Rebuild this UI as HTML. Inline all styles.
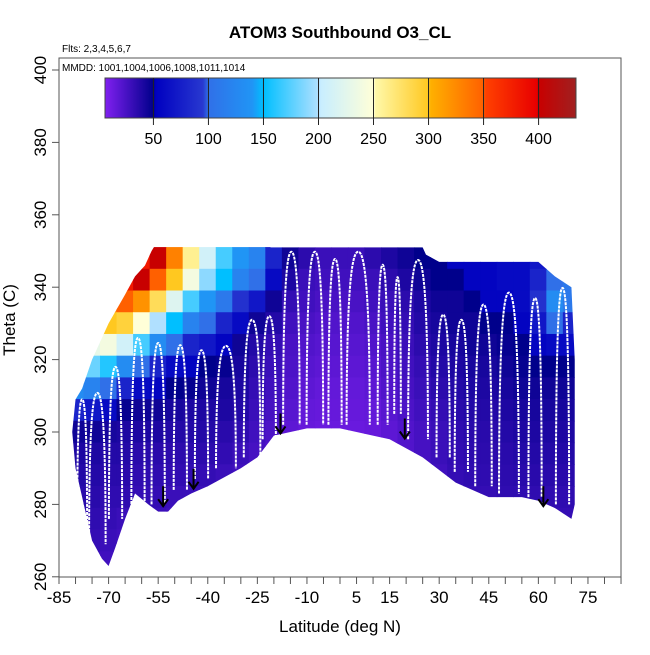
<!DOCTYPE html>
<html><head><meta charset="utf-8"><style>
html,body{margin:0;padding:0;background:#fff;}
svg text{font-family:"Liberation Sans",sans-serif;}
</style></head><body>
<svg id="chart" width="650" height="650" xmlns="http://www.w3.org/2000/svg">
<defs><clipPath id="curtainClip"><polygon id="clipPoly" points=""/></clipPath></defs>
<text x="340" y="38" font-size="17" font-weight="bold" text-anchor="middle">ATOM3 Southbound O3_CL</text>
<text x="62" y="52" font-size="10">Flts: 2,3,4,5,6,7</text>
<g id="plotArea"></g>
<rect x="59" y="58" width="562" height="519" fill="none" stroke="#555" stroke-width="1"/>
<text x="62" y="71" font-size="10">MMDD: 1001,1004,1006,1008,1011,1014</text>
<g id="colorbar"></g>
<g id="axes"></g>
<text x="340" y="632" font-size="17" text-anchor="middle">Latitude (deg N)</text>
<text transform="translate(15,320) rotate(-90)" font-size="17" text-anchor="middle">Theta (C)</text>
</svg>
<script>
const gridLats=[-80,-75,-70,-65,-60,-55,-50,-45,-40,-35,-30,-25,-20,-15,-10,-5,0,5,10,15,20,25,30,35,40,45,50,55,60,65,70];
const gridThetas=[348,342,336,330,324,318,312,306,300,294,288,282,276,270,264];
const ozone=[
[300,350,380,400,380,400,330,260,210,170,140,120,80,45,35,30,30,30,35,40,45,50,50,55,55,55,60,60,70,80,90],
[300,340,380,380,400,350,300,240,190,150,120,100,60,40,30,28,28,28,30,35,40,45,50,50,55,55,60,60,80,100,110],
[300,320,330,350,320,280,220,170,140,110,90,70,45,32,28,25,25,25,28,30,35,40,45,45,50,55,55,60,90,130,110],
[280,300,300,290,250,200,150,120,100,80,60,45,38,28,25,22,22,22,25,28,32,38,42,45,45,50,50,55,70,100,80],
[220,230,240,210,170,130,100,80,70,55,45,38,32,25,22,20,20,20,22,25,30,35,40,42,45,45,48,50,55,60,60],
[150,180,160,130,100,80,60,55,50,48,42,35,30,24,20,18,18,18,20,24,28,32,38,40,42,42,45,48,50,50,50],
[130,120,100,80,60,55,50,48,45,42,40,32,28,22,18,16,16,16,18,22,26,30,35,38,40,40,42,45,45,45,45],
[80,70,60,48,45,45,42,40,40,40,38,30,26,20,16,15,15,15,16,20,24,28,32,36,38,38,40,42,42,42,42],
[45,45,42,40,40,40,38,38,38,36,34,28,24,18,15,14,14,14,15,18,22,26,30,34,36,36,38,40,40,40,40],
[40,40,38,38,36,36,35,35,35,33,30,26,22,18,15,14,14,14,15,18,22,26,30,33,35,35,36,38,38,38,38],
[38,38,36,36,34,34,33,33,32,30,28,25,22,18,15,14,14,14,15,18,22,25,28,32,34,34,35,36,36,36,36],
[36,36,34,34,32,32,30,30,30,28,26,24,22,18,15,14,14,14,15,18,22,25,28,30,32,32,34,34,34,34,34],
[34,34,32,30,30,30,28,28,28,26,25,24,22,18,15,14,14,14,15,18,22,25,28,30,30,30,32,32,32,32,32],
[32,32,30,28,28,28,26,26,26,25,24,23,22,18,15,14,14,14,15,18,22,25,26,28,28,28,30,30,30,30,30],
[30,30,28,26,26,26,25,25,25,24,23,22,20,18,15,14,14,14,15,18,22,24,25,26,26,26,28,28,28,28,28]];
const botLats=[-81,-80,-78,-75,-72,-70,-68,-65,-62,-58,-55,-52,-49,-45,-40,-30,-25,-20,-15,-10,0,5,15,25,35,40,45,55,60,65,70,71];
const botTheta=[300,290,282,270,265,263,268,276,283,280,278,278,281,283,285,290,293,299,300,301,301,300,298,293,286,284,282,282,281,279,276,280];
const topLats=[-81,-80,-78,-75,-72,-70,-65,-62,-59,-57,-55,-25,-22,-21,25,26,30,60,65,70,71];
const topTheta=[300,309,312,320,326,330,338,343,346,350,353,353,353,351,351,349,347,347,343,340,320];
const profLat=[-78,-73.4,-67.9,-61.1,-55,-48.3,-41.9,-34.5,-26.6,-21.4,-14.7,-7.6,-1.5,5.5,12.9,17.4,23.6,31.2,36.7,43.4,51.1,59,67.3];
const profPeak=[309,310.8,318,326,324.6,324,322.6,323.8,331,332,349.8,349.8,347.8,349.8,346.2,342.8,347.5,332.4,331,335.2,338.5,337,339.8];
const profBot=[273,269,276,279,280,284,287,290,293,298,302,302,302,302,302,305,298,293,289,285,283,282,280];
const profHalf=[1.5,2.5,2,2,2,2,2,3,2.5,2,2.5,2.5,2,3.5,1.5,1,3,2,2,2.5,3,2,2];
const arrowLat=[-53.5,-44.3,-18,19.6,61.5];
const arrowTip=[279.5,284.3,299.6,298.2,279.5];
const cbTicks=[50,100,150,200,250,300,350,400];
const xTicks=[-85,-70,-55,-40,-25,-10,5,15,30,45,60,75];
const yTicks=[260,280,300,320,340,360,380,400];

const NS='http://www.w3.org/2000/svg';
const X=lat=>59+(lat+85)*3.306;
const Y=th=>70+(400-th)*3.62;
const CB=v=>105+(v-6)*(471/428);
const stops=[[6,'#8020f0'],[50,'#00008b'],[52,'#0000c0'],[95,'#2838d0'],[100,'#3070e8'],[140,'#2095f5'],[150,'#00bfff'],[200,'#b0e0ff'],[202,'#c8eeff'],[250,'#ffffd8'],[252,'#fff8a8'],[300,'#ffc820'],[302,'#ffb000'],[350,'#ff6000'],[352,'#ff4000'],[398,'#e80000'],[400,'#c80000'],[434,'#a02020']];
function hex(h){return [parseInt(h.substr(1,2),16),parseInt(h.substr(3,2),16),parseInt(h.substr(5,2),16)];}
function col(v){
 if(v<=stops[0][0])return stops[0][1];
 for(let i=1;i<stops.length;i++){if(v<=stops[i][0]){const a=hex(stops[i-1][1]),b=hex(stops[i][1]);const t=(v-stops[i-1][0])/(stops[i][0]-stops[i-1][0]);return 'rgb('+a.map((c,k)=>Math.round(c+(b[k]-c)*t)).join(',')+')';}}
 return stops[stops.length-1][1];
}
function mk(tag,attrs,parent){const e=document.createElementNS(NS,tag);for(const k in attrs)e.setAttribute(k,attrs[k]);parent.appendChild(e);return e;}

let pts=[];
topLats.forEach((l,i)=>pts.push(X(l)+','+Y(topTheta[i])));
for(let i=botLats.length-1;i>=0;i--)pts.push(X(botLats[i])+','+Y(botTheta[i]));
document.getElementById('clipPoly').setAttribute('points',pts.join(' '));

const plot=document.getElementById('plotArea');
const cells=mk('g',{'clip-path':'url(#curtainClip)'},plot);
gridThetas.forEach((th,r)=>{gridLats.forEach((la,c)=>{
 const e=mk('rect',{x:X(la-2.5)-0.3,y:Y(th+3)-0.3,width:5*3.306+0.6,height:6*3.62+0.6,fill:col(ozone[r][c])},cells);
 
 
});});

profLat.forEach((la,i)=>{
 const w=profHalf[i],x0=X(la-w),x1=X(la+w),xm=X(la),yp=Y(profPeak[i]),yb=Y(profBot[i]);
 const d=`M${x0},${yb} C${x0},${yp+(yb-yp)*0.25} ${X(la-w*0.6)},${yp} ${xm},${yp} C${X(la+w*0.6)},${yp} ${x1},${yp+(yb-yp)*0.25} ${x1},${yb}`;
 const p=mk('path',{d:d,fill:'none',stroke:'#fff','stroke-width':2,'stroke-dasharray':'3 1'},plot);
 
 
});
arrowLat.forEach((la,i)=>{
 const x=X(la),yt=Y(arrowTip[i]);
 const g=mk('g',{},plot);
 
 
 mk('line',{x1:x,y1:yt-20,x2:x,y2:yt,stroke:'#000','stroke-width':2},g);
 mk('path',{d:`M${x-5},${yt-7} L${x},${yt} L${x+5},${yt-7}`,fill:'none',stroke:'#000','stroke-width':2},g);
});

const cb=document.getElementById('colorbar');
const grad=mk('linearGradient',{id:'cbg',x1:0,x2:1,y1:0,y2:0},document.querySelector('defs'));
stops.forEach(s=>mk('stop',{offset:((s[0]-6)/428),'stop-color':s[1]},grad));
const bar=mk('rect',{x:CB(6),y:78,width:CB(434)-CB(6),height:40,fill:'url(#cbg)',stroke:'#444','stroke-width':1},cb);


cbTicks.forEach(v=>{
 const x=CB(v);
 mk('line',{x1:x,y1:78,x2:x,y2:125,stroke:'#222','stroke-width':1},cb);
 const t=mk('text',{x:x,y:144,'font-size':16,'text-anchor':'middle'},cb);t.textContent=v;
 
 
});

const ax=document.getElementById('axes');
for(let l=-85;l<=85;l+=5){mk('line',{x1:X(l),y1:577,x2:X(l),y2:584,stroke:'#555'},ax);}
xTicks.forEach(l=>{const t=mk('text',{x:X(l),y:603,'font-size':17,'text-anchor':'middle'},ax);t.textContent=l;
 
 });
yTicks.forEach(v=>{mk('line',{x1:52,y1:Y(v),x2:59,y2:Y(v),stroke:'#555'},ax);
 const t=mk('text',{transform:`translate(46,${Y(v)}) rotate(-90)`,'font-size':17,'text-anchor':'middle'},ax);t.textContent=v;
 
 });
</script>
</body></html>
